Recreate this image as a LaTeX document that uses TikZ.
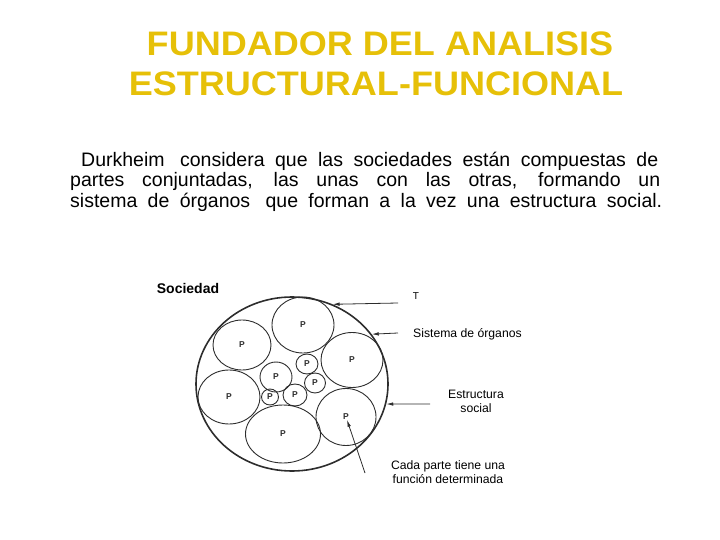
\documentclass[tikz,border=0pt]{standalone}
\usepackage{fontspec}
\setmainfont{Liberation Sans}
\newfontfamily\headfont[FakeStretch=1.06]{Liberation Sans}
\usetikzlibrary{arrows.meta, positioning, shapes.geometric}
\definecolor{titlegold}{RGB}{230,192,8}
\definecolor{inkgrey}{RGB}{45,45,45}

\begin{document}
\begin{tikzpicture}[
  x=1bp, y=-1bp,
  heading/.style={anchor=base, inner sep=0pt, text=titlegold,
                  font=\headfont\fontsize{34bp}{38bp}\selectfont\bfseries},
  body/.style={anchor=base west, inner sep=0pt,
               font=\fontsize{19.5bp}{21bp}\selectfont},
  whole/.style={ellipse, draw=inkgrey, line width=1.6bp, inner sep=0pt},
  part/.style={ellipse, draw=inkgrey, line width=0.9bp, inner sep=0pt,
               text=inkgrey, font=\fontsize{8.5bp}{9bp}\selectfont\bfseries},
  note/.style={anchor=base, inner sep=0pt, align=center,
               font=\fontsize{12.2bp}{14bp}\selectfont},
  pointer/.style={-{Latex[length=7bp, width=3.5bp]}, line width=0.8bp, inkgrey},
]
  \useasboundingbox (0,0) rectangle (720,540);

  % Title
  \node[heading] (title1) at (380,56) {FUNDADOR DEL ANALISIS};
  \node[heading] (title2) at (376,96) {ESTRUCTURAL-FUNCIONAL};

  % Paragraph
  \node[body] (line1) at (81,167)
    {\makebox[577bp][s]{Durkheim\hspace{5bp} considera que las sociedades están compuestas de}};
  \node[body] (line2) at (70,187)
    {\makebox[590bp][s]{partes conjuntadas, las unas con las otras, formando un}};
  \node[body] (line3) at (70,208)
    {\makebox[592bp][s]{sistema de órganos\hspace{5bp} que forman a la vez una estructura social.}};

  % Society and its parts
  \node[whole, minimum width=192bp, minimum height=174bp] (soc) at (292,384) {};
  \node[part, minimum width=62bp, minimum height=56bp] (p1) at (303,325) {P};
  \node[part, minimum width=58bp, minimum height=50bp] (p2) at (242,345) {P};
  \node[part, minimum width=62bp, minimum height=55bp] (p3) at (352,360) {P};
  \node[part, minimum width=62bp, minimum height=54bp] (p4) at (229,397) {P};
  \node[part, minimum width=75bp, minimum height=58bp] (p5) at (283,434) {P};
  \node[part, minimum width=60bp, minimum height=57bp] (p6) at (346,417) {P};
  \node[part, minimum width=32bp, minimum height=30bp] (p7) at (276,377) {P};
  \node[part, minimum width=22bp, minimum height=20bp] (p8) at (307,364) {P};
  \node[part, minimum width=21bp, minimum height=20bp] (p9) at (315,383) {P};
  \node[part, minimum width=24bp, minimum height=22bp] (p10) at (295,395) {P};
  \node[part, minimum width=17bp, minimum height=16bp] (p11) at (270,397) {P};

  % Labels
  \node[note, font=\fontsize{14bp}{16bp}\selectfont\bfseries] (sociedad) at (188,293) {Sociedad};
  \node[note, font=\fontsize{10bp}{12bp}\selectfont] (tlabel) at (416,299) {T};
  \node[note, anchor=base west] (sistema) at (413,337) {Sistema de órganos};
  \node[note] (estructura) at (476,412) {Estructura\\social};
  \node[note] (cada) at (448,483) {Cada parte tiene una\\función determinada};

  % Pointers
  \coordinate (tTail) at (398,303);
  \coordinate (sisTail) at (398,333);
  \coordinate (estTail) at (430,404);
  \coordinate (cadaTail) at (365,473);
  \draw[pointer] (tTail) -- (soc.63);
  \draw[pointer] (sisTail) -- (soc.32);
  \draw[pointer] (estTail) -- (soc.-12);
  \draw[pointer, shorten >=3bp] (cadaTail) -- (p6.center);
\end{tikzpicture}
\end{document}
